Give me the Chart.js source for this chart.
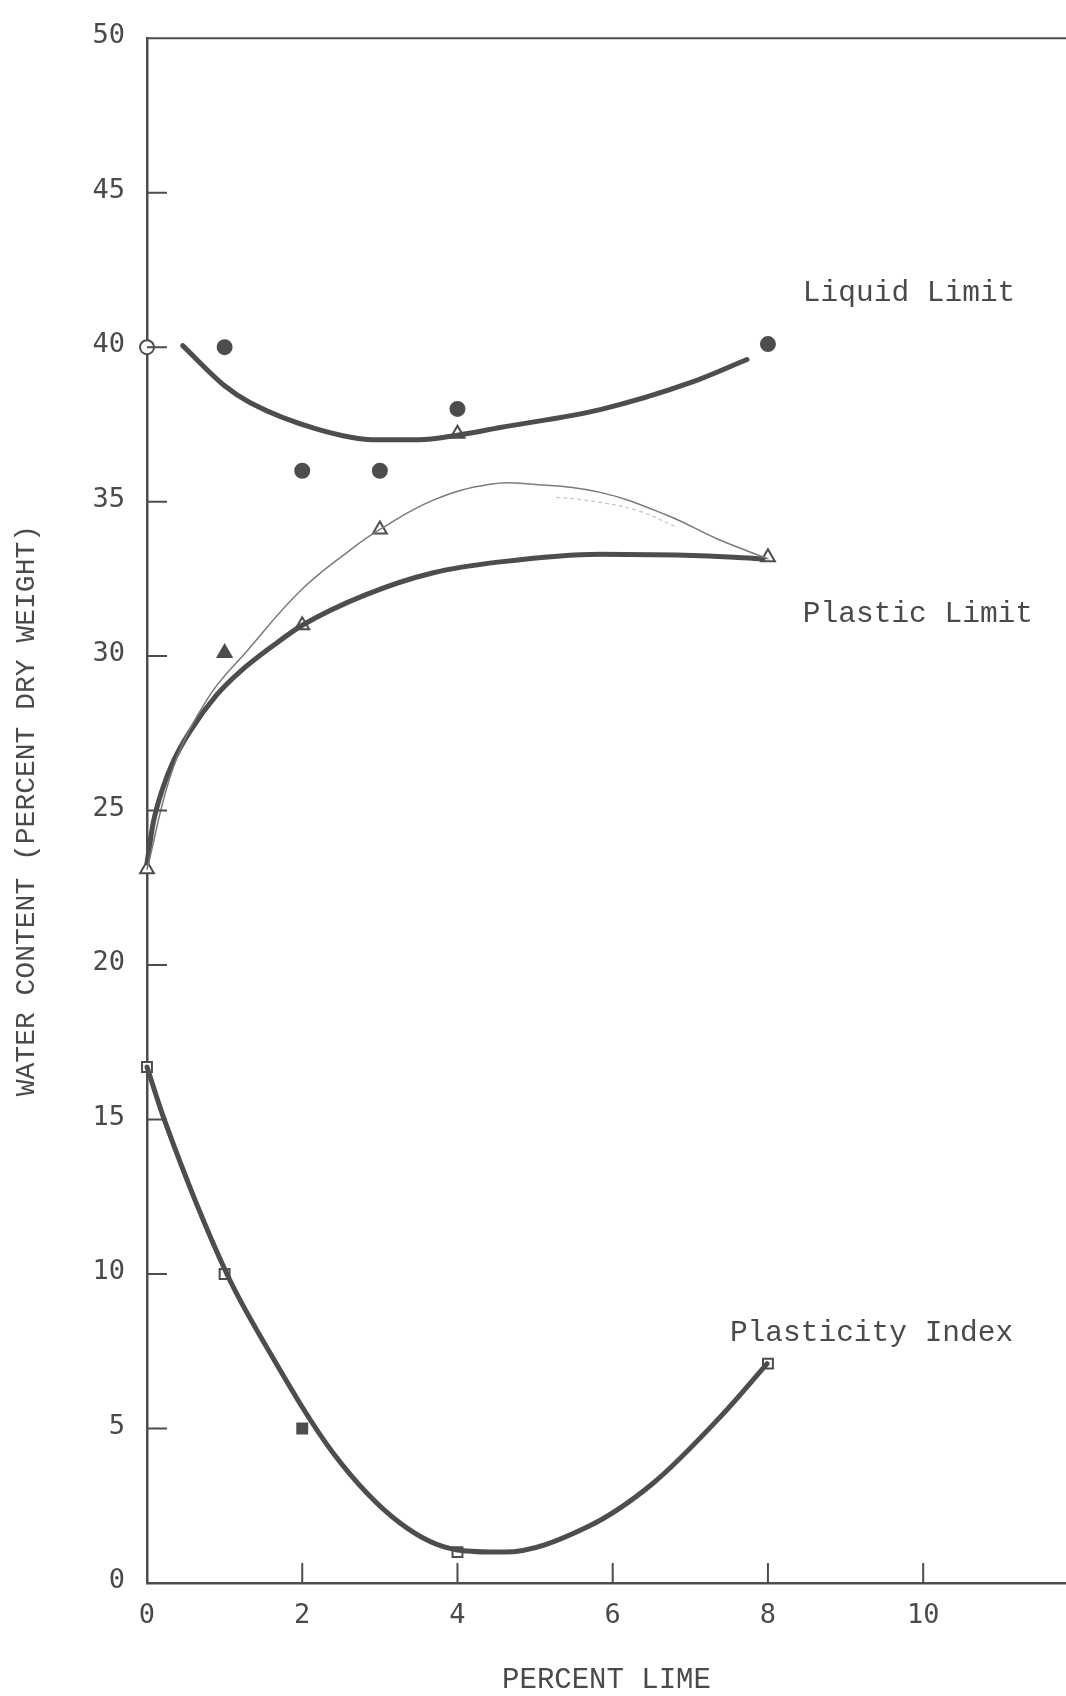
<!DOCTYPE html>
<html>
<head>
<meta charset="utf-8">
<script src="https://cdn.jsdelivr.net/npm/chart.js@4/dist/chart.umd.min.js"></script>
<style>
  html, body { margin: 0; padding: 0; background: #ffffff; overflow: hidden; }
  #wrap { width: 1066px; height: 1696px; }
</style>
</head>
<body>
<div id="wrap"><canvas id="c" width="1066" height="1696"></canvas></div>
<script>
// Axis ticks
const xTicks = [0, 2, 4, 6, 8, 10];
const yTicks = [0, 5, 10, 15, 20, 25, 30, 35, 40, 45, 50];

// Measured Atterberg limits (percent dry weight) against percent lime
const limeLevels = [0, 1, 2, 3, 4, 8];
const liquidLimit = [40.0, 40.0, 36.0, 36.0, 38.0, 40.1];
const plasticLimit = [23.1, 30.1, 31.0, 34.1, 37.2, 33.2];
const piLimeLevels = [0, 1, 2, 4, 8];
const plasticityIndex = [16.7, 10.0, 5.0, 1.0, 7.1];

// Hand-faired trend curves (lime %, water content %)
const llCurveX = [0.46, 1.0, 1.33, 2.19, 2.96, 3.5, 4.0, 4.55, 5.84, 7.0, 7.73];
const llCurveY = [40.05, 38.75, 38.2, 37.35, 37.0, 37.0, 37.15, 37.4, 37.98, 38.85, 39.6];

const plCurveX = [0, 0.08, 0.2, 0.34, 0.55, 0.9, 1.2, 1.63, 2.0, 2.83, 3.69, 4.55, 5.84, 7.13, 7.94];
const plCurveY = [23.3, 24.6, 25.7, 26.6, 27.55, 28.75, 29.5, 30.35, 31.0, 32.0, 32.7, 33.05, 33.3, 33.25, 33.15];

// Freehand pencil line through the plastic limit points, and a fainter earlier stroke
const plSketchX = [0, 0.34, 0.8, 1.3, 1.97, 2.6, 3.0, 3.69, 4.42, 4.97, 5.84, 6.7, 7.35, 8.0];
const plSketchY = [23.1, 26.4, 28.7, 30.2, 32.1, 33.4, 34.1, 35.05, 35.56, 35.56, 35.3, 34.56, 33.79, 33.15];
const plFaintX = [5.28, 5.58, 6.27, 6.83];
const plFaintY = [35.14, 35.07, 34.75, 34.17];

const piCurveX = [0, 0.23, 1.03, 1.55, 2.4, 3.26, 4.0, 4.6, 5.67, 6.52, 7.38, 7.99];
const piCurveY = [16.7, 14.95, 10.0, 7.6, 4.2, 1.94, 1.07, 1.0, 1.81, 3.23, 5.36, 7.1];

// Curve labels: [text, lime %, water content %]
const curveLabels = [
  ['Liquid Limit', 8.45, 41.76],
  ['Plastic Limit', 8.45, 31.36],
  ['Plasticity Index', 7.51, 8.1]
];

const INK = '#4d4d4d';
const pairs = (xs, ys) => xs.map((x, i) => ({ x: x, y: ys[i] }));

// Marker fills: hollow symbols except where the sheet shows them inked in
const llFill = ['#ffffff', INK, INK, INK, INK, INK];
const plFill = ['#ffffff', INK, '#ffffff', '#ffffff', '#ffffff', '#ffffff'];
const piFill = ['#ffffff', '#ffffff', INK, '#ffffff', '#ffffff'];

const curve = (label, xs, ys, width, color, mode, dash) => ({
  label: label,
  data: pairs(xs, ys),
  showLine: true,
  borderColor: color,
  borderWidth: width,
  borderDash: dash || [],
  borderCapStyle: 'round',
  pointRadius: 0,
  tension: 0.4,
  cubicInterpolationMode: mode,
  fill: false,
  clip: false
});

const markers = (label, xs, ys, style, radius, fills) => ({
  label: label,
  data: pairs(xs, ys),
  showLine: false,
  pointStyle: style,
  pointRadius: radius,
  pointBackgroundColor: fills,
  pointBorderColor: INK,
  pointBorderWidth: 2,
  clip: false
});

// Short inward tick marks, frame top edge, and curve labels
const sheetPlugin = {
  id: 'sheet',
  afterDraw(chart) {
    const { ctx, chartArea, scales } = chart;
    const sx = scales.x, sy = scales.y;
    ctx.save();
    ctx.strokeStyle = INK;
    ctx.lineWidth = 2;
    ctx.beginPath();
    ctx.moveTo(chartArea.left, chartArea.top);
    ctx.lineTo(chart.width, chartArea.top);
    ctx.stroke();
    ctx.beginPath();
    yTicks.forEach(v => {
      if (v === 0 || v === 50) return;
      const py = sy.getPixelForValue(v);
      ctx.moveTo(chartArea.left, py);
      ctx.lineTo(chartArea.left + 20, py);
    });
    xTicks.forEach(v => {
      if (v === 0) return;
      const px = sx.getPixelForValue(v);
      ctx.moveTo(px, chartArea.bottom);
      ctx.lineTo(px, chartArea.bottom - 20);
    });
    ctx.stroke();
    ctx.fillStyle = '#4a4a4a';
    ctx.font = '29.5px "Liberation Mono", monospace';
    ctx.textAlign = 'left';
    ctx.textBaseline = 'middle';
    curveLabels.forEach(([t, lx, ly]) => {
      ctx.fillText(t, sx.getPixelForValue(lx), sy.getPixelForValue(ly));
    });
    ctx.restore();
  }
};

new Chart(document.getElementById('c'), {
  type: 'scatter',
  data: {
    datasets: [
      curve('Plastic Limit faint stroke', plFaintX, plFaintY, 1.2, '#c4c4c4', 'default', [3, 4]),
      curve('Liquid Limit curve', llCurveX, llCurveY, 5, INK, 'monotone'),
      curve('Plastic Limit sketch', plSketchX, plSketchY, 1.5, '#7a7a7a', 'default'),
      curve('Plastic Limit curve', plCurveX, plCurveY, 5, INK, 'monotone'),
      curve('Plasticity Index curve', piCurveX, piCurveY, 5, INK, 'monotone'),
      markers('Liquid Limit', limeLevels, liquidLimit, 'circle', 7, llFill),
      markers('Plastic Limit', limeLevels, plasticLimit, 'triangle', 8, plFill),
      markers('Plasticity Index', piLimeLevels, plasticityIndex, 'rect', 7, piFill)
    ]
  },
  options: {
    responsive: false,
    devicePixelRatio: 1,
    animation: false,
    layout: { autoPadding: false, padding: { top: 35, right: 0, left: 0, bottom: 0 } },
    plugins: { legend: { display: false }, tooltip: { enabled: false } },
    scales: {
      x: {
        type: 'linear',
        min: 0,
        max: 11.84,
        afterBuildTicks: s => { s.ticks = xTicks.map(v => ({ value: v })); },
        afterFit: s => { s.height = 113; },
        grid: { display: false, drawTicks: false },
        border: { display: true, color: INK, width: 2.5 },
        ticks: {
          color: '#4a4a4a',
          font: { family: '"DejaVu Sans Mono", monospace', size: 27 },
          padding: 17,
          maxRotation: 0
        },
        title: {
          display: true,
          text: 'PERCENT LIME',
          color: '#4a4a4a',
          font: { family: '"Liberation Mono", monospace', size: 29 },
          padding: { top: 0, bottom: -2 }
        }
      },
      y: {
        type: 'linear',
        min: 0,
        max: 50,
        afterBuildTicks: s => { s.ticks = yTicks.map(v => ({ value: v })); },
        afterFit: s => { s.width = 147; },
        grid: { display: false, drawTicks: false },
        border: { display: true, color: INK, width: 2.5 },
        ticks: {
          color: '#4a4a4a',
          font: { family: '"DejaVu Sans Mono", monospace', size: 27 },
          padding: 22,
          labelOffset: -2
        },
        title: {
          display: true,
          text: 'WATER CONTENT (PERCENT DRY WEIGHT)',
          color: '#4a4a4a',
          font: { family: '"Liberation Mono", monospace', size: 28 },
          padding: { top: 10, bottom: 0 }
        }
      }
    }
  },
  plugins: [sheetPlugin]
});
</script>
</body>
</html>
